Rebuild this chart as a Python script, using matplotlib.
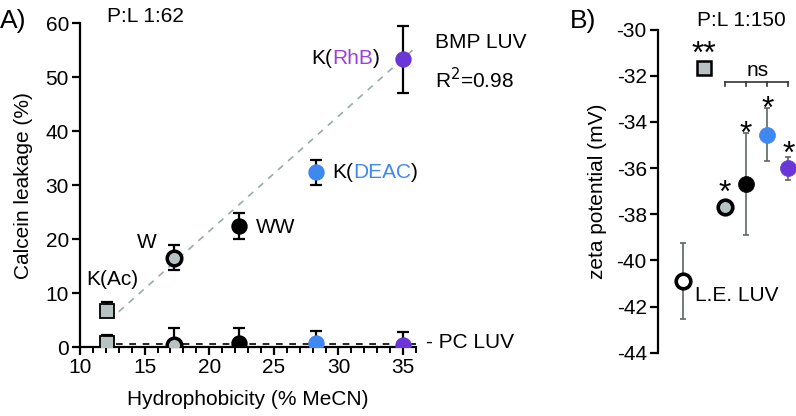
import matplotlib
matplotlib.use("Agg")
import matplotlib.pyplot as plt

plt.rcParams['font.family'] = ['Liberation Sans', 'DejaVu Sans']

# ---- Panel A data: calcein leakage vs hydrophobicity ----
names_a = ['K(Ac)', 'W', 'WW', 'K(DEAC)', 'K(RhB)']
hydro = [12.1, 17.3, 22.3, 28.3, 35.0]
bmp_leak = [6.7, 16.6, 22.4, 32.4, 53.3]
bmp_err = [1.7, 2.3, 2.4, 2.3, 6.2]
pc_leak = [0.8, 0.5, 0.8, 0.8, 0.5]
pc_err = [1.5, 3.0, 2.7, 2.3, 2.3]
fit_x = [13.0, 36.0]
fit_y = [6.6, 55.6]
pc_line_x = [12.8, 36.4]
pc_line_y = [0.7, 0.7]

# ---- Panel B data: zeta potential ----
names_b = ['L.E. LUV', 'K(Ac)', 'W', 'WW', 'K(DEAC)', 'K(RhB)']
zeta = [-40.9, -31.65, -37.7, -36.7, -34.55, -36.0]
zeta_err = [1.65, 0.1, 0.12, 2.2, 1.15, 0.5]
stars = ['', '**', '*', '*', '*', '*']

gray = '#b7c3c2'
blue = '#3f88f2'
purple = '#6b36d8'
faces = ['white', gray, gray, 'black', blue, purple]
markers = ['o', 's', 'o', 'o', 'o', 'o']

fs = 15


def two_colour_label(ax, x, y, inner, colour):
    # writes K(<inner>) with the inner part coloured
    t1 = ax.text(x, y, 'K(', fontsize=fs, ha='left', va='center')
    t2 = ax.annotate(inner, xycoords=t1, xy=(1, 0.5), va='center', ha='left',
                     fontsize=fs, color=colour)
    ax.annotate(')', xycoords=t2, xy=(1, 0.5), va='center', ha='left', fontsize=fs)


fig = plt.figure(figsize=(7.96, 4.16), dpi=100)
axA = fig.add_axes([0.1005, 0.165, 0.4221, 0.779])
axB = fig.add_axes([0.8266, 0.152, 0.1734, 0.777])

# Panel A
axA.plot(fit_x, fit_y, ls=(0, (4, 4)), color='#9aabab', lw=1.2, zorder=1)
axA.plot(pc_line_x, pc_line_y, ls=(0, (4, 4)), color='black', lw=1.2, zorder=1, clip_on=False)
for i in range(len(hydro)):
    fc = faces[i + 1]
    m = markers[i + 1]
    lw_edge = 2.5 if (m == 'o' and fc == gray) else 1.3
    ec = 'black' if fc in (gray, 'black') else fc
    ms = 10.5
    # BMP series
    if i == 0:
        axA.errorbar(hydro[i], bmp_leak[i], yerr=[[0], [bmp_err[i]]], fmt='none',
                     ecolor='black', elinewidth=1.6, capsize=4, capthick=1.6, zorder=2)
    else:
        axA.errorbar(hydro[i], bmp_leak[i], yerr=bmp_err[i], fmt='none',
                     ecolor='black', elinewidth=1.6, capsize=4, capthick=1.6, zorder=2)
    axA.plot(hydro[i], bmp_leak[i], marker=m, ms=ms, mfc=fc, mec=ec, mew=lw_edge, zorder=3)
    # PC series
    axA.errorbar(hydro[i], pc_leak[i], yerr=pc_err[i], fmt='none',
                 ecolor='black', elinewidth=1.6, capsize=4, capthick=1.6, zorder=2)
    axA.plot(hydro[i], pc_leak[i], marker=m, ms=ms, mfc=fc, mec=ec, mew=lw_edge, zorder=3)

axA.set_xlim(10, 36)
axA.set_ylim(0, 60)
axA.set_xticks([10, 15, 20, 25, 30, 35])
axA.set_xticks(range(10, 37), minor=True)
axA.set_yticks([0, 10, 20, 30, 40, 50, 60])
for s in ['top', 'right']:
    axA.spines[s].set_visible(False)
for s in ['left', 'bottom']:
    axA.spines[s].set_linewidth(1.6)
axA.tick_params(axis='both', which='major', direction='out', length=6, width=1.6,
                labelsize=fs, pad=2)
axA.tick_params(axis='x', which='minor', direction='out', length=4, width=1.4)
axA.set_xlabel('Hydrophobicity (% MeCN)', fontsize=fs, labelpad=9)
axA.set_ylabel('Calcein leakage (%)', fontsize=fs, labelpad=9)

axA.text(12.1, 61.2, 'P:L 1:62', fontsize=fs, ha='left', va='center', clip_on=False)
axA.text(37.5, 56.4, 'BMP LUV', fontsize=fs, ha='left', va='center', clip_on=False)
axA.text(37.5, 49.5, 'R$^2$=0.98', fontsize=fs, ha='left', va='center', clip_on=False)
axA.text(36.8, 0.9, '- PC LUV', fontsize=fs, ha='left', va='center', clip_on=False)
axA.text(10.5, 12.5, 'K(Ac)', fontsize=fs, ha='left', va='center')
axA.text(15.2, 19.4, 'W', fontsize=fs, ha='center', va='center')
axA.text(23.6, 22.2, 'WW', fontsize=fs, ha='left', va='center')
two_colour_label(axA, 29.5, 32.4, 'DEAC', blue)
two_colour_label(axA, 27.9, 53.4, 'RhB', '#9a40dc')

# Panel B
xb = list(range(len(names_b)))
star_fs = 23
for i in xb:
    axB.errorbar(xb[i], zeta[i], yerr=zeta_err[i], fmt='none', ecolor='#5f6666',
                 elinewidth=1.2, capsize=2.5, capthick=1.2, zorder=2, clip_on=False)
    fc = faces[i]
    m = markers[i]
    if fc in ('white', gray) and m == 'o':
        axB.plot(xb[i], zeta[i], marker='o', ms=10.5, mfc=fc, mec='black', mew=2.6,
                 zorder=3, clip_on=False)
    elif m == 's':
        axB.plot(xb[i], zeta[i], marker='s', ms=10.5, mfc=fc, mec='black', mew=1.8,
                 zorder=3, clip_on=False)
    else:
        axB.plot(xb[i], zeta[i], marker='o', ms=11.5, mfc=fc, mec=fc, mew=0.5,
                 zorder=3, clip_on=False)
    if stars[i]:
        top = max(zeta[i] + zeta_err[i], zeta[i] + 0.65)
        # asterisk glyph sits high above the baseline, so shift it down
        axB.annotate(stars[i], xy=(xb[i], top + 0.35), xytext=(0, -0.56 * star_fs),
                     textcoords='offset points', fontsize=star_fs,
                     ha='center', va='baseline', annotation_clip=False)

# ns bracket between W .. K(RhB)
br_y = -32.27
axB.plot([xb[2], xb[5]], [br_y, br_y], color='#333333', lw=1.2, clip_on=False)
for i in xb[2:]:
    axB.plot([xb[i], xb[i]], [br_y, br_y - 0.17], color='#333333', lw=1.2, clip_on=False)
axB.text((xb[2] + xb[5]) / 2 + 0.05, br_y + 0.1, 'ns', fontsize=fs, ha='center',
         va='bottom', clip_on=False)
axB.text(0.57, -41.5, 'L.E. LUV', fontsize=fs, ha='left', va='center')
axB.text(0.66, -29.6, 'P:L 1:150', fontsize=fs, ha='left', va='center', clip_on=False)

axB.set_xlim(-1.18, 5.36)
axB.set_ylim(-44, -30)
axB.set_yticks(range(-44, -29, 2))
axB.set_yticklabels(['-%d' % abs(v) for v in range(-44, -29, 2)])
axB.set_xticks([])
for s in ['top', 'right', 'bottom']:
    axB.spines[s].set_visible(False)
axB.spines['left'].set_linewidth(1.6)
axB.tick_params(axis='y', direction='out', length=6, width=1.6, labelsize=fs, pad=2)
axB.set_ylabel('zeta potential (mV)', fontsize=fs, labelpad=7)

fig.text(0.0, 0.95, 'A)', fontsize=19, ha='left', va='center')
fig.text(0.716, 0.95, 'B)', fontsize=19, ha='left', va='center')

fig.savefig('out.png', dpi=100)
